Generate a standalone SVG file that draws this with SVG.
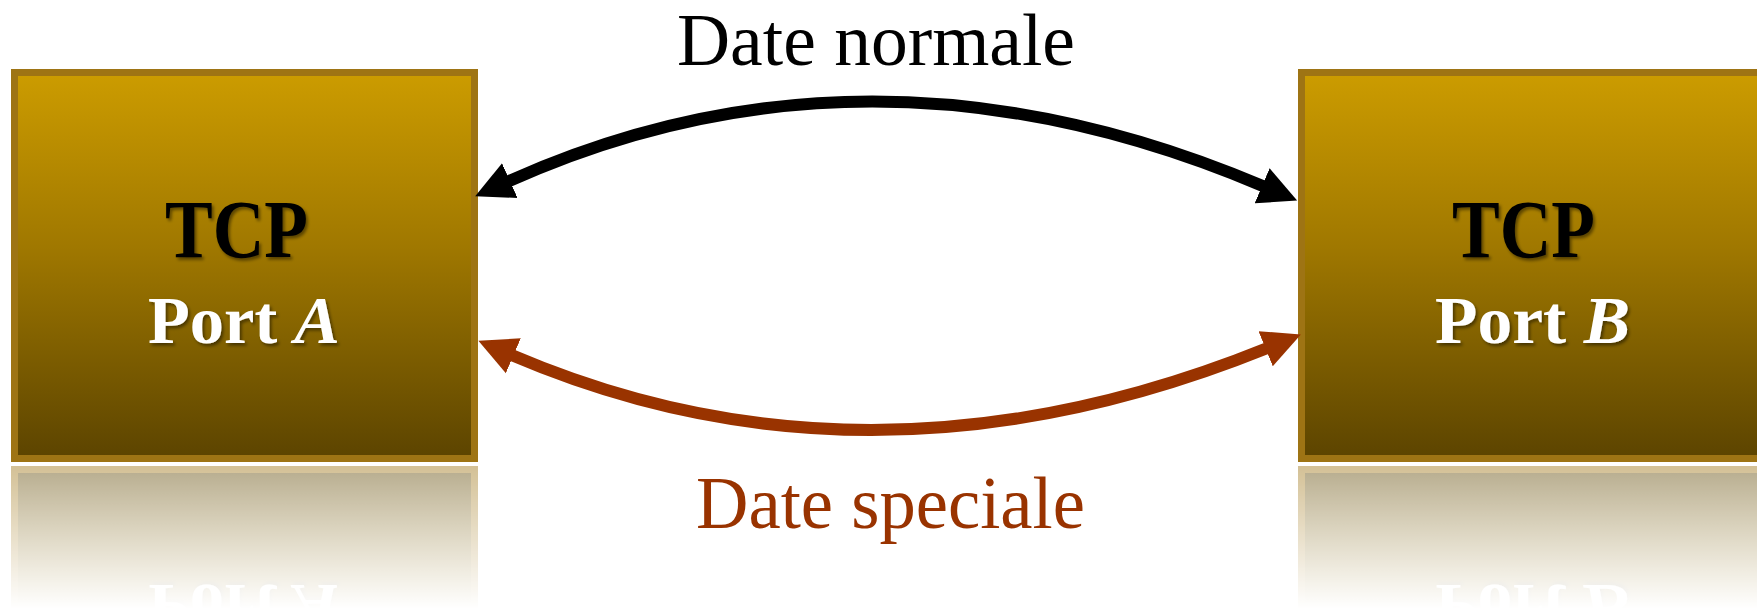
<svg xmlns="http://www.w3.org/2000/svg" xmlns:xlink="http://www.w3.org/1999/xlink" width="1757" height="609" viewBox="0 0 1757 609">
  <style>
    .box { stroke: #9e7414; stroke-width: 7; fill: url(#boxGrad); }
    .tcp { font-family: "Liberation Serif", "Times New Roman", serif; font-weight: bold; font-size: 82px; fill: #000; filter: url(#shadow); }
    .port { font-family: "Liberation Serif", "Times New Roman", serif; font-weight: bold; font-size: 68px; fill: #fff; filter: url(#shadow); }
    .port tspan.it { font-style: italic; }
    .label { font-family: "Liberation Serif", "Times New Roman", serif; font-size: 73px; }
    .conn { fill: none; stroke-width: 12; }
  </style>
  <defs>
    <linearGradient id="boxGrad" x1="0" y1="0" x2="0" y2="1">
      <stop offset="0" stop-color="#cc9c00"/>
      <stop offset="0.45" stop-color="#a07800"/>
      <stop offset="1" stop-color="#5c4400"/>
    </linearGradient>
    <linearGradient id="fadeGrad" gradientUnits="userSpaceOnUse" x1="0" y1="466" x2="0" y2="609">
      <stop offset="0" stop-color="#fff" stop-opacity="0.45"/>
      <stop offset="1" stop-color="#fff" stop-opacity="0"/>
    </linearGradient>
    <mask id="fadeMask" maskUnits="userSpaceOnUse" x="0" y="464" width="1757" height="145">
      <rect x="0" y="464" width="1757" height="145" fill="url(#fadeGrad)"/>
    </mask>
    <filter id="shadow" x="-10%" y="-10%" width="130%" height="140%">
      <feDropShadow dx="2" dy="2.5" stdDeviation="1.5" flood-color="#000" flood-opacity="0.45"/>
    </filter>
    <marker id="headBlack" markerUnits="userSpaceOnUse" viewBox="0 -20 40 40" markerWidth="40" markerHeight="40" refX="2" refY="0" orient="auto-start-reverse">
      <path d="M0,-19 L38,0 L0,19 z" fill="#000"/>
    </marker>
    <marker id="headRed" markerUnits="userSpaceOnUse" viewBox="0 -20 40 40" markerWidth="40" markerHeight="40" refX="2" refY="0" orient="auto-start-reverse">
      <path d="M0,-19 L38,0 L0,19 z" fill="#993300"/>
    </marker>
  </defs>

  <rect x="0" y="0" width="1757" height="609" fill="#fff"/>

  <g id="nodeA">
    <g id="nodeA-body">
      <rect class="box" x="14.5" y="72.5" width="460" height="386"/>
      <text class="tcp" x="165" y="257" textLength="143" lengthAdjust="spacingAndGlyphs">TCP</text>
      <text class="port" x="148" y="343" textLength="192" lengthAdjust="spacingAndGlyphs">Port <tspan class="it">A</tspan></text>
    </g>
    <g mask="url(#fadeMask)">
      <use xlink:href="#nodeA-body" href="#nodeA-body" transform="matrix(1,0,0,-1,0,928)"/>
    </g>
  </g>

  <g id="nodeB">
    <g id="nodeB-body">
      <rect class="box" x="1301.5" y="72.5" width="460" height="386"/>
      <text class="tcp" x="1452" y="257" textLength="143" lengthAdjust="spacingAndGlyphs">TCP</text>
      <text class="port" x="1435" y="343" textLength="195" lengthAdjust="spacingAndGlyphs">Port <tspan class="it">B</tspan></text>
    </g>
    <g mask="url(#fadeMask)">
      <use xlink:href="#nodeB-body" href="#nodeB-body" transform="matrix(1,0,0,-1,0,928)"/>
    </g>
  </g>

  <g id="connectors">
    <path class="conn" stroke="#000" d="M508,181.5 Q870,19 1264,186.5" marker-start="url(#headBlack)" marker-end="url(#headBlack)"/>
    <path class="conn" stroke="#993300" d="M511.5,355 Q870,508.5 1267.5,348" marker-start="url(#headRed)" marker-end="url(#headRed)"/>
  </g>

  <g id="labels">
    <text class="label" x="677" y="65" fill="#000" textLength="398" lengthAdjust="spacingAndGlyphs">Date normale</text>
    <text class="label" x="696" y="528" fill="#993300" textLength="389" lengthAdjust="spacingAndGlyphs">Date speciale</text>
  </g>
</svg>
